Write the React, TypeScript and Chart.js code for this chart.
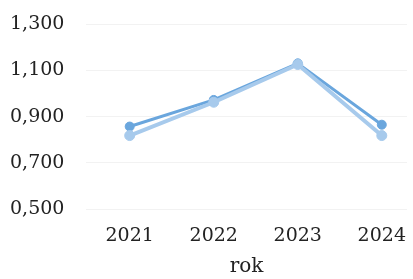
import React, { useEffect, useRef } from "react";
import { Chart, registerables } from "chart.js";

Chart.register(...registerables);

const years = [2021, 2022, 2023, 2024];
const seriesA = [0.857, 0.972, 1.13, 0.865];
const seriesB = [0.818, 0.962, 1.125, 0.818];
const yTicks = [0.5, 0.7, 0.9, 1.1, 1.3];
const xTitle = "rok";

export default function App() {
  const ref = useRef<HTMLCanvasElement | null>(null);
  useEffect(() => {
    if (!ref.current) return;
    const font = { family: "'DejaVu Serif', serif", size: 19 };
    const mk = (vals: number[]) => years.map((y, i) => ({ x: y, y: vals[i] }));
    const chart = new Chart(ref.current, {
      type: "line",
      data: {
        datasets: [
          {
            label: "B",
            data: mk(seriesB),
            borderColor: "#a7caec",
            backgroundColor: "#a7caec",
            borderWidth: 4,
            pointRadius: 5,
            pointBorderWidth: 1,
            pointBorderColor: "#a7caec",
          },
          {
            label: "A",
            data: mk(seriesA),
            borderColor: "#6aa6dd",
            backgroundColor: "#6aa6dd",
            borderWidth: 3,
            pointRadius: 4.5,
            pointBorderWidth: 1,
            pointBorderColor: "#6aa6dd",
          },
        ],
      },
      options: {
        animation: false,
        responsive: false,
        maintainAspectRatio: false,
        devicePixelRatio: 1,
        layout: { padding: { top: 24, left: 10, right: 0, bottom: 0 } },
        plugins: { legend: { display: false }, tooltip: { enabled: false } },
        scales: {
          x: {
            type: "linear",
            min: 2020.48,
            max: 2024.3,
            afterBuildTicks: (s: any) => {
              s.ticks = years.map((v) => ({ value: v }));
            },
            ticks: {
              font,
              color: "#222",
              padding: 0,
              callback: (v: any) => String(v),
            },
            grid: { display: false, drawTicks: true, tickLength: 15 },
            border: { display: false },
            title: {
              display: true,
              text: xTitle,
              font: { family: "'DejaVu Serif', serif", size: 20 },
              color: "#222",
              padding: { top: 8, bottom: 0 },
            },
          },
          y: {
            min: 0.5,
            max: 1.3,
            afterBuildTicks: (s: any) => {
              s.ticks = yTicks.map((v) => ({ value: v }));
            },
            afterFit: (s: any) => {
              s.width = 76;
            },
            ticks: {
              font,
              color: "#222",
              padding: 0,
              crossAlign: "far",
              callback: (v: any) => Number(v).toFixed(3).replace(".", ","),
            },
            grid: { color: "#f2f2f2", lineWidth: 1, drawTicks: false },
            border: { display: false },
          },
        },
      },
    } as any);
    return () => chart.destroy();
  }, []);
  return (
    <div style={{ position: "fixed", left: 0, top: 0, width: 413, height: 279, background: "#fff" }}>
      <canvas ref={ref} width={413} height={279} style={{ display: "block", width: 413, height: 279 }} />
    </div>
  );
}
